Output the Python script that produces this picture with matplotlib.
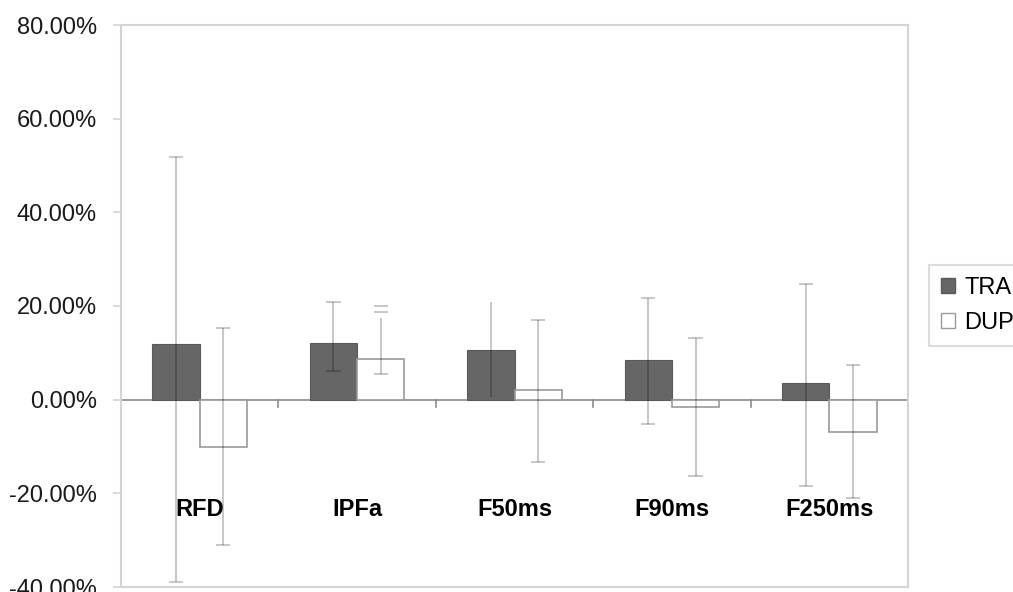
import matplotlib
matplotlib.use("Agg")
import matplotlib.pyplot as plt
from matplotlib.patches import Patch
import numpy as np

plt.rcParams['font.family'] = ['Liberation Sans', 'DejaVu Sans']

categories = ["RFD", "IPFa", "F50ms", "F90ms", "F250ms"]
series_names = ["TRA", "DUP"]

tra_values = [11.95, 12.0, 10.7, 8.5, 3.5]
tra_err_low = [-39.0, 6.05, 0.5, -5.1, -18.4]
tra_err_high = [51.9, 20.9, 20.9, 21.8, 24.8]
tra_low_cap = [True, True, False, True, True]
tra_high_cap = [True, True, False, True, True]

dup_values = [-10.2, 8.6, 2.1, -1.6, -6.9]
dup_err_low = [-31.1, 5.5, -13.3, -16.2, -21.0]
dup_err_high = [15.4, 17.4, 17.1, 13.2, 7.3]
dup_low_cap = [True, True, True, True, True]
dup_high_cap = [True, False, True, True, True]
# stray cap marks drawn above the IPFa DUP whisker in the original
dup_extra_cap_cat = [1, 1]
dup_extra_cap_y = [18.7, 20.1]

yticks = [-40, -20, 0, 20, 40, 60, 80]
ytick_labels = ["-40.00%", "-20.00%", "0.00%", "20.00%", "40.00%", "60.00%", "80.00%"]
category_label_y = -23.4

fig = plt.figure(figsize=(10.13, 5.92), dpi=100)
ax = fig.add_axes([121 / 1013, 1 - 587 / 592, (908 - 121) / 1013, (587 - 25) / 592])

x = np.arange(len(categories))
bw = 0.3
frame_c = "#d4d4d4"
err_kw = dict(colors="black", alpha=0.28, linewidth=1.1, zorder=4)
cap_half = 0.045

ax.bar(x - bw / 2, tra_values, width=bw, color="#666666", edgecolor="#5a5a5a",
       linewidth=0.8, zorder=3)
ax.bar(x + bw / 2, dup_values, width=bw, color="white", edgecolor="#9a9a9a",
       linewidth=1.2, zorder=3)

def draw_err(xs, lo, hi, lo_cap, hi_cap):
    ax.vlines(xs, lo, hi, **err_kw)
    for xi, l, h, lc, hc in zip(xs, lo, hi, lo_cap, hi_cap):
        if lc:
            ax.hlines(l, xi - cap_half, xi + cap_half, **err_kw)
        if hc:
            ax.hlines(h, xi - cap_half, xi + cap_half, **err_kw)

draw_err(x - bw / 2, tra_err_low, tra_err_high, tra_low_cap, tra_high_cap)
draw_err(x + bw / 2, dup_err_low, dup_err_high, dup_low_cap, dup_high_cap)
for ci, cy in zip(dup_extra_cap_cat, dup_extra_cap_y):
    xc = x[ci] + bw / 2
    ax.hlines(cy, xc - cap_half, xc + cap_half, **err_kw)

# zero axis line with category boundary ticks
ax.axhline(0, color="#8a8a8a", linewidth=1.2, zorder=2)
for b in np.arange(0.5, len(categories) - 0.5, 1.0):
    ax.plot([b, b], [0, -1.5], color="#8a8a8a", linewidth=1.2, zorder=2)

for xi, name in zip(x, categories):
    ax.text(xi, category_label_y, name, ha="center", va="center",
            fontsize=17, fontweight="bold", color="black")

ax.set_xlim(-0.5, len(categories) - 0.5)
ax.set_ylim(-40, 80)
ax.set_xticks([])
ax.set_yticks(yticks)
ax.set_yticklabels(ytick_labels, fontsize=17, color="#1a1a1a")
ax.tick_params(axis="y", length=5.8, width=1.2, color=frame_c, pad=11.5)
for s in ax.spines.values():
    s.set_color(frame_c)
    s.set_linewidth(1.5)

handles = [Patch(facecolor="#666666", edgecolor="#5a5a5a"),
           Patch(facecolor="white", edgecolor="#9a9a9a")]
leg = fig.legend(handles, series_names, loc="upper left",
                 bbox_to_anchor=(929 / 1013, 1 - 265 / 592),
                 fontsize=17, frameon=True, fancybox=False,
                 handlelength=0.6, handleheight=0.6, handletextpad=0.4,
                 borderpad=0.5, labelspacing=0.55, borderaxespad=0)
leg.get_frame().set_edgecolor(frame_c)
leg.get_frame().set_linewidth(1.5)

fig.savefig("out.png", dpi=100)
